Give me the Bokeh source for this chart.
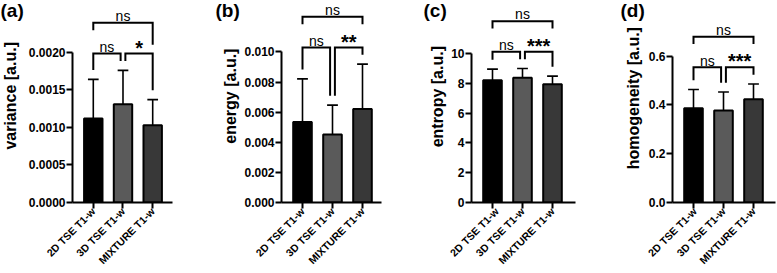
import math
from bokeh.plotting import figure
from bokeh.layouts import row
from bokeh.models import Range1d, FixedTicker, SingleIntervalTicker, NumeralTickFormatter
from bokeh.embed import file_html
from bokeh.resources import INLINE
from bokeh.core.properties import value

# ---------------- data ----------------
CATEGORIES = ["2D TSE T1-w", "3D TSE T1-w", "MIXTURE T1-w"]

VARIANCE_MEAN = [0.00112, 0.00131, 0.00103]
VARIANCE_SD = [0.00052, 0.00045, 0.00034]
VARIANCE_SIG = ["ns", "*", "ns"]          # (1v2, 2v3, 1v3)

ENERGY_MEAN = [0.00534, 0.00452, 0.00621]
ENERGY_SD = [0.00287, 0.00195, 0.00298]
ENERGY_SIG = ["ns", "**", "ns"]

ENTROPY_MEAN = [8.20, 8.37, 7.93]
ENTROPY_SD = [0.75, 0.62, 0.55]
ENTROPY_SIG = ["ns", "***", "ns"]

HOMOG_MEAN = [0.386, 0.377, 0.423]
HOMOG_SD = [0.077, 0.076, 0.063]
HOMOG_SIG = ["ns", "***", "ns"]

TAGS = ["(a)", "(b)", "(c)", "(d)"]
YLABELS = ["variance [a.u.]", "energy [a.u.]", "entropy [a.u.]", "homogeneity [a.u.]"]
AXIS_TOP = [0.002, 0.010, 10, 0.6]
AXIS_STEP = [0.0005, 0.002, 2, 0.2]
AXIS_FMT = ["0.0000", "0.000", "0", "0.0"]

MEANS = [VARIANCE_MEAN, ENERGY_MEAN, ENTROPY_MEAN, HOMOG_MEAN]
SDS = [VARIANCE_SD, ENERGY_SD, ENTROPY_SD, HOMOG_SD]
SIGS = [VARIANCE_SIG, ENERGY_SIG, ENTROPY_SIG, HOMOG_SIG]

# ---------------- style / layout ----------------
BAR_COLORS = ["#000000", "#5a5a5a", "#383838"]
FONT = "Liberation Sans"
H = 273
COL_W = [25, 46, 57, 60]          # side column holding panel tag + y title
LEFTS = [46, 40, 24, 27]          # main figure left border (tick labels)
FRAME_W = [101, 100, 104, 103]
RIGHTS = [23, 9, 10, 2]
BASELINES = [205, 206, 206, 207]
PX_PER_UNIT = [76200, 15350, 15.2, 250]
TAG_X = [0, 20, 33, 35]
YLAB_X = [10, 35, 47, 48]
OUTER_RIGHT_TO_INNER = [True, False, False, False]
X_START = -0.7
PX_PER_CAT = 30.0

children = []
for k in range(4):
    L, R, fw, base, ppu = LEFTS[k], RIGHTS[k], FRAME_W[k], BASELINES[k], PX_PER_UNIT[k]
    W = L + fw + R
    x_end = X_START + fw / PX_PER_CAT
    y_end = base / ppu
    px = lambda n, ppu=ppu: n / ppu

    # ---- side column: panel tag and rotated y title (pixel space, y from top) ----
    c = figure(width=COL_W[k], height=H, x_range=Range1d(0, COL_W[k]), y_range=Range1d(H, 0),
               output_backend="svg", toolbar_location=None, x_axis_type=None, y_axis_type=None,
               min_border_left=0, min_border_right=0, min_border_top=0, min_border_bottom=0)
    c.outline_line_color = None
    c.grid.visible = False
    axis_mid_px = base - AXIS_TOP[k] * ppu / 2
    c.text(x=[YLAB_X[k]], y=[axis_mid_px], text=[YLABELS[k]], angle=math.pi / 2,
           text_font=value(FONT), text_font_style="bold", text_font_size=value("16px"),
           text_align="center", text_baseline="middle", text_color="black")
    c.text(x=[TAG_X[k]], y=[13], text=[TAGS[k]], text_font=value(FONT),
           text_font_style="bold", text_font_size=value("19px"),
           text_align="left", text_baseline="middle", text_color="black")
    children.append(c)

    # ---- main chart ----
    p = figure(width=W, height=H, x_range=Range1d(X_START, x_end), y_range=Range1d(0, y_end),
               output_backend="svg", toolbar_location=None,
               min_border_left=L, min_border_right=R, min_border_top=0,
               min_border_bottom=H - base)
    p.outline_line_color = None
    p.grid.visible = False
    p.background_fill_color = "white"

    xs = list(range(len(CATEGORIES)))
    mean = MEANS[k]
    sd = SDS[k]
    up = [m + s for m, s in zip(mean, sd)]

    xa = p.xaxis[0]
    ya = p.yaxis[0]
    for ax in (xa, ya):
        ax.axis_line_width = 2
        ax.axis_line_color = "black"
        ax.major_tick_line_width = 2
        ax.major_tick_line_color = "black"
        ax.major_tick_out = 6
        ax.major_tick_in = 0
        ax.minor_tick_line_color = None
        ax.major_label_text_font = FONT
        ax.major_label_text_font_style = "bold"
        ax.major_label_text_color = "black"
    xa.ticker = FixedTicker(ticks=xs)
    xa.major_label_overrides = {i: cat for i, cat in enumerate(CATEGORIES)}
    xa.major_label_orientation = math.pi / 4
    xa.major_label_text_font_size = "10.5px"
    xa.major_label_standoff = 1
    ya.ticker = SingleIntervalTicker(interval=AXIS_STEP[k], num_minor_ticks=0)
    ya.formatter = NumeralTickFormatter(format=AXIS_FMT[k])
    ya.bounds = (0, AXIS_TOP[k] * 1.0001)
    ya.major_label_text_font_size = "12px"
    ya.major_label_standoff = 1

    # error bars (upper only)
    p.segment(x0=xs, y0=mean, x1=xs, y1=up, line_width=1.6, line_color="black")
    p.segment(x0=[x - 0.18 for x in xs], y0=up, x1=[x + 0.18 for x in xs], y1=up,
              line_width=1.6, line_color="black")
    # bars
    p.vbar(x=xs, top=mean, bottom=0, width=0.62, fill_color=BAR_COLORS,
           line_color="black", line_width=2)

    # significance brackets
    inner_y = max(up) + px(17)
    outer_y = inner_y + px(31.3)
    leg = px(9.5)
    off = 0.08
    bxs = [[0, 0, 1 - off, 1 - off], [1 + off, 1 + off, 2, 2]]
    bys = [[up[0] + leg, inner_y, inner_y, up[1] + leg],
           [up[1] + leg, inner_y, inner_y, up[2] + leg]]
    right_bottom = inner_y + px(9) if OUTER_RIGHT_TO_INNER[k] else outer_y - px(7.5)
    bxs.append([0, 0, 2, 2])
    bys.append([outer_y - px(7.5), outer_y, outer_y, right_bottom])
    p.multi_line(xs=bxs, ys=bys, line_width=2, line_color="black", line_join="miter")

    sig = SIGS[k]
    centers = [(0 + 1 - off) / 2, (1 + off + 2) / 2, 1.0]
    levels = [inner_y, inner_y, outer_y]
    ns_x = [cx for cx, s in zip(centers, sig) if s == "ns"]
    ns_y = [lv + px(7) for lv, s in zip(levels, sig) if s == "ns"]
    st_x = [cx for cx, s in zip(centers, sig) if s != "ns"]
    st_y = [lv + px(6) for lv, s in zip(levels, sig) if s != "ns"]
    st_t = [s for s in sig if s != "ns"]
    p.text(x=ns_x, y=ns_y, text=["ns"] * len(ns_x), text_font=value(FONT),
           text_font_size=value("14px"), text_align="center", text_baseline="alphabetic",
           text_color="black")
    p.text(x=st_x, y=st_y, text=st_t, text_font=value(FONT), text_font_style="bold",
           text_font_size=value("20px"), text_align="center", text_baseline="alphabetic",
           text_color="black")
    children.append(p)

layout = row(*children)
open("out.html", "w").write(file_html(layout, INLINE))
